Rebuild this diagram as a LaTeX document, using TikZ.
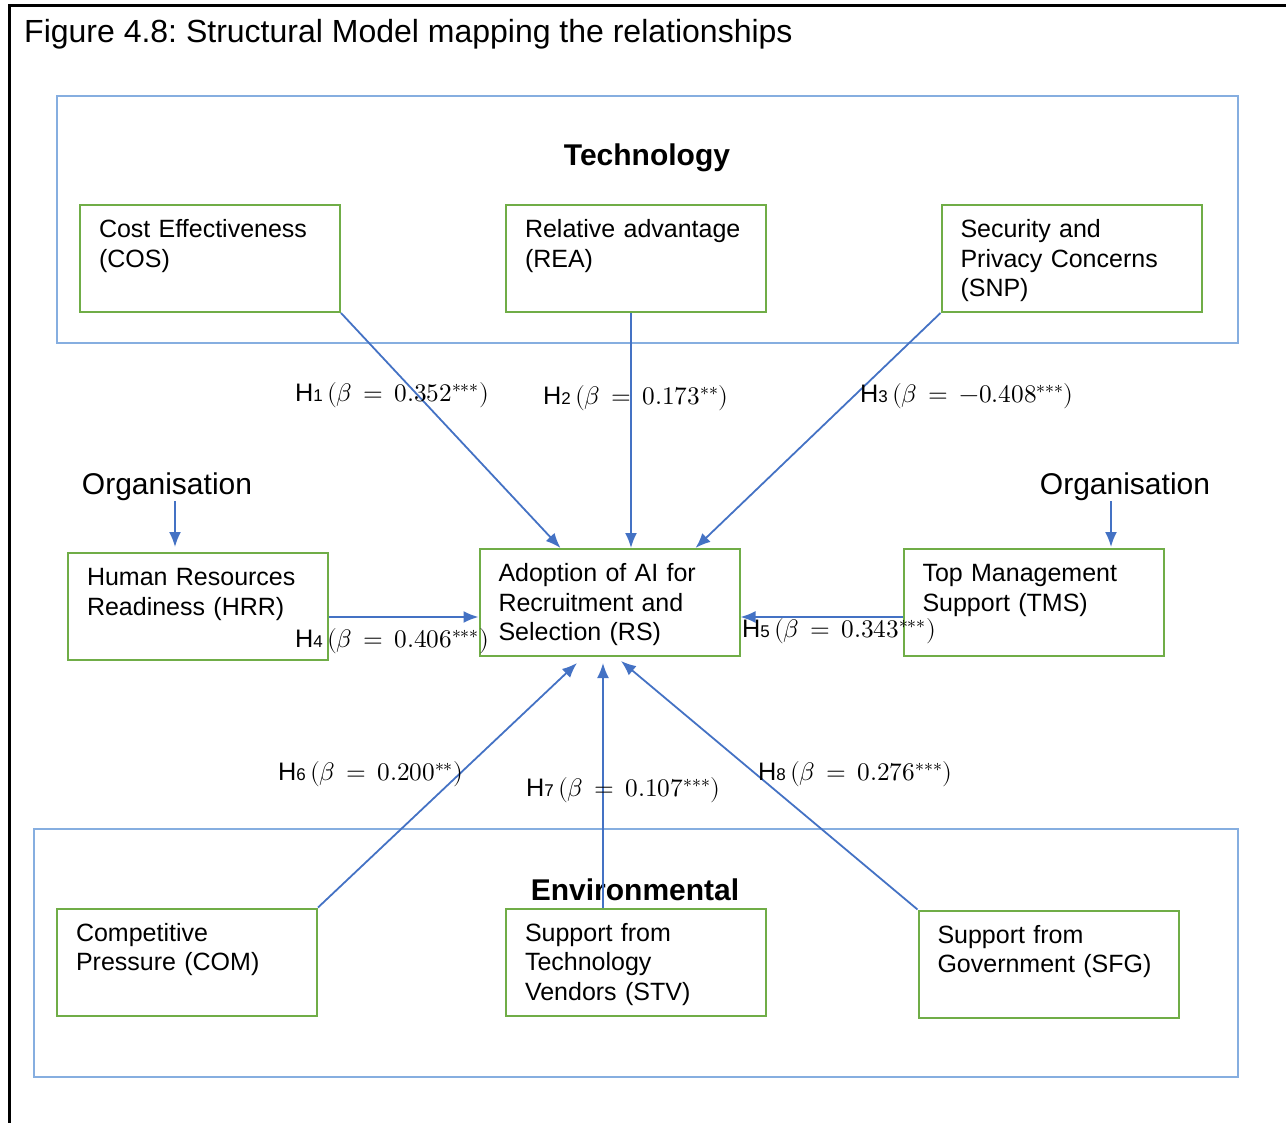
\documentclass[tikz,border=0pt]{standalone}
\usepackage{unicode-math}
\setmainfont{Liberation Sans}
\usetikzlibrary{arrows.meta}
\definecolor{framegreen}{HTML}{70AD47}
\definecolor{groupblue}{HTML}{86AEE0}
\definecolor{linkblue}{HTML}{4472C4}
\newcommand\hyp[3]{H{\fontsize{17}{17}\selectfont #1}\,$(\beta\,=\,#2^{#3})$}
\newcommand\topstrut{\rule{0pt}{26.7pt}}
\tikzset{
  construct/.style={draw=framegreen, line width=2pt, rectangle, align=left,
    text width=222pt, inner xsep=19pt, inner ysep=0pt, minimum height=107pt,
    font=\fontsize{25}{29.5}\selectfont},
  group/.style={draw=groupblue, line width=2pt},
  link/.style={draw=linkblue, line width=1.8pt, -{Latex[length=15pt,width=12pt]}},
  hyplabel/.style={anchor=west, inner sep=0pt, font=\fontsize{25.3}{29}\selectfont},
  heading/.style={font=\fontsize{30}{34}\selectfont\bfseries, inner sep=0pt},
  sidehead/.style={font=\fontsize{30}{34}\selectfont, inner sep=0pt}
}
\begin{document}
\begin{tikzpicture}[x=1pt, y=-1pt]
\useasboundingbox (0,0) rectangle (1286,1123);

% outer frame and caption
\draw[line width=3pt] (9,1123) -- (9,6) -- (1286,6);
\node[anchor=base west, inner sep=0pt, font=\fontsize{32}{36}\selectfont] (caption) at (24,43)
  {\frenchspacing Figure 4.8: Structural Model mapping the relationships};

% group containers
\draw[group] (57,96) rectangle (1238,343);
\draw[group] (34,829) rectangle (1238,1077);
\node[heading] (tech) at (647,158) {Technology};
\node[heading] (env) at (635,890) {Environmental};

% constructs
\node[construct] (cos) at (210,258.5) {\topstrut Cost Effectiveness\\\strut (COS)\\\strut};
\node[construct] (rea) at (636,258.5) {\topstrut Relative advantage\\\strut (REA)\\\strut};
\node[construct] (snp) at (1071.5,258.5) {\topstrut Security and\\\strut Privacy Concerns\\\strut (SNP)};
\node[construct] (hrr) at (198,606.5) {\topstrut Human Resources\\\strut Readiness (HRR)\\\strut};
\node[construct] (rs) at (609.5,602.5) {\topstrut Adoption of AI for\\\strut Recruitment and\\\strut Selection (RS)};
\node[construct] (tms) at (1033.5,602.5) {\topstrut Top Management\\\strut Support (TMS)\\\strut};
\node[construct] (com) at (187,962) {\topstrut Competitive\\\strut Pressure (COM)\\\strut};
\node[construct] (stv) at (636,962) {\topstrut Support from\\\strut Technology\\\strut Vendors (STV)};
\node[construct] (sfg) at (1048.5,964) {\topstrut Support from\\\strut Government (SFG)\\\strut};

% organisation headings
\node[sidehead] (orgl) at (167,487) {Organisation};
\node[sidehead] (orgr) at (1125,487) {Organisation};
\draw[link] (orgl.south -| 175,0) -- ([yshift=5pt]hrr.north -| 175,0);
\draw[link] (orgr.south -| 1111,0) -- ([yshift=1pt]tms.north -| 1111,0);

% hypothesised paths
\draw[link] (cos.south east) -- ([xshift=82pt]rs.north west);
\draw[link] ([xshift=-5pt]rea.south) -- ([xshift=21.5pt]rs.north);
\draw[link] (snp.south west) -- ([xshift=217pt]rs.north west);
\draw[link] (hrr.east |- 0,617) -- (rs.west |- 0,617);
\draw[link] (tms.west |- 0,617) -- (rs.east |- 0,617);
\draw[link] (com.north east) -- ([shift={(-32.5,6)}]rs.south);
\draw[link] ([xshift=-33pt]stv.north) -- ([shift={(-6.5,6)}]rs.south);
\draw[link] (sfg.north west) -- ([shift={(11.5,4)}]rs.south);

% path coefficients
\node[hyplabel] (h1) at (295,395) {\hyp{1}{0.352}{***}};
\node[hyplabel] (h2) at (543,398) {\hyp{2}{0.173}{**}};
\node[hyplabel] (h3) at (860,396) {\hyp{3}{-0.408}{***}};
\node[hyplabel] (h4) at (295,641) {\hyp{4}{0.406}{***}};
\node[hyplabel] (h5) at (742,631) {\hyp{5}{0.343}{***}};
\node[hyplabel] (h6) at (278,774) {\hyp{6}{0.200}{**}};
\node[hyplabel] (h7) at (526,790) {\hyp{7}{0.107}{***}};
\node[hyplabel] (h8) at (758,774) {\hyp{8}{0.276}{***}};
\end{tikzpicture}
\end{document}
